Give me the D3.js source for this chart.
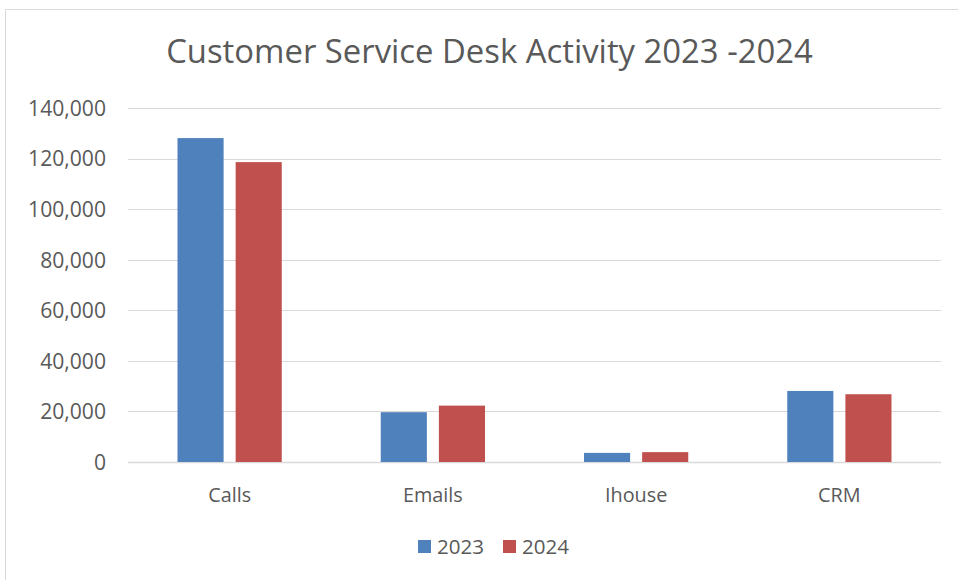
<!DOCTYPE html>
<html><head><meta charset="utf-8">
<script src="https://cdn.jsdelivr.net/npm/d3@7"></script>
<style>body{margin:0;background:#fff}svg{display:block}</style>
</head><body>
<svg id="c" width="958" height="580"></svg>
<script>
const categories = ["Calls", "Emails", "Ihouse", "CRM"];
const seriesNames = ["2023", "2024"];
const values2023 = [128100, 19700, 3600, 28100];
const values2024 = [118600, 22300, 3900, 26800];
const yTicks = [0, 20000, 40000, 60000, 80000, 100000, 120000, 140000];
const colors = ["#4f81bd", "#c0504d"];

const svg = d3.select("#c");
const font = "Open Sans, Liberation Sans, sans-serif";
const textColor = "#595959";

// measure helper: font size such that sample text has target width
function fitSize(sample, target, base) {
  const t = svg.append("text").attr("font-family", font).attr("font-size", base).text(sample);
  const w = t.node().getComputedTextLength();
  t.remove();
  return base * target / w;
}
const tickSize = fitSize("140,000", 78, 20);
const catSize = fitSize("Calls", 43, 20);
const legSize = fitSize("2023", 47, 20);

// frame (top & left)
svg.append("path").attr("d", "M5.5,580 L5.5,9.5 L958,9.5")
  .attr("fill", "none").attr("stroke", "#d9d9d9").attr("stroke-width", 1);

const plotL = 128, plotR = 941, plotT = 108, plotB = 462;
const x = d3.scaleBand().domain(categories).range([plotL, plotR]).paddingInner(0).paddingOuter(0);
const y = d3.scaleLinear().domain([0, 140000]).range([plotB, plotT]);
const inner = d3.scaleBand().domain(seriesNames).range([49.5, x.bandwidth() - 49.5]).paddingInner(12/58);

// gridlines
svg.append("g").selectAll("line").data(yTicks).join("line")
  .attr("x1", plotL).attr("x2", plotR)
  .attr("y1", d => Math.round(y(d)) + 0.5).attr("y2", d => Math.round(y(d)) + 0.5)
  .attr("stroke", "#d9d9d9").attr("stroke-width", d => d === 0 ? 1.5 : 1);

// y axis labels
const yAxis = d3.axisLeft(y).tickValues(yTicks).tickFormat(d3.format(",")).tickSize(0).tickPadding(0);
const ya = svg.append("g").attr("transform", "translate(106,0)").call(yAxis);
ya.select(".domain").remove();
ya.selectAll("text").attr("font-family", font).attr("font-size", tickSize).attr("fill", textColor).attr("dy", "0.35em");

// bars
const data = categories.map((c, i) => ({cat: c, vals: [values2023[i], values2024[i]]}));
const g = svg.append("g");
data.forEach(d => {
  g.selectAll(null).data(d.vals.map((v, j) => ({s: seriesNames[j], v, j}))).join("rect")
    .attr("x", e => x(d.cat) + inner(e.s))
    .attr("width", inner.bandwidth())
    .attr("y", e => y(e.v))
    .attr("height", e => y(0) - y(e.v))
    .attr("fill", e => colors[e.j]);
});

// x axis labels
const xAxis = d3.axisBottom(x).tickSize(0).tickPadding(0);
const xa = svg.append("g").attr("transform", `translate(0,${plotB})`).call(xAxis);
xa.select(".domain").remove();
xa.selectAll("text").attr("font-family", font).attr("font-size", catSize).attr("fill", textColor)
  .attr("y", 40).attr("dy", 0);

// title
const title = svg.append("text").attr("x", 489.5).attr("y", 63).attr("text-anchor", "middle")
  .attr("font-family", font).attr("font-size", 30).attr("fill", textColor)
  .text("Customer Service Desk Activity 2023 -2024");
const tw = title.node().getComputedTextLength();
title.attr("font-size", 30 * 647 / tw);

// legend
const legX = [418, 503];
seriesNames.forEach((s, j) => {
  svg.append("rect").attr("x", legX[j]).attr("y", 540).attr("width", 13).attr("height", 13).attr("fill", colors[j]);
  svg.append("text").attr("x", legX[j] + 19).attr("y", 554).attr("font-family", font).attr("font-size", legSize)
    .attr("fill", textColor).text(s);
});
</script>
</body></html>
